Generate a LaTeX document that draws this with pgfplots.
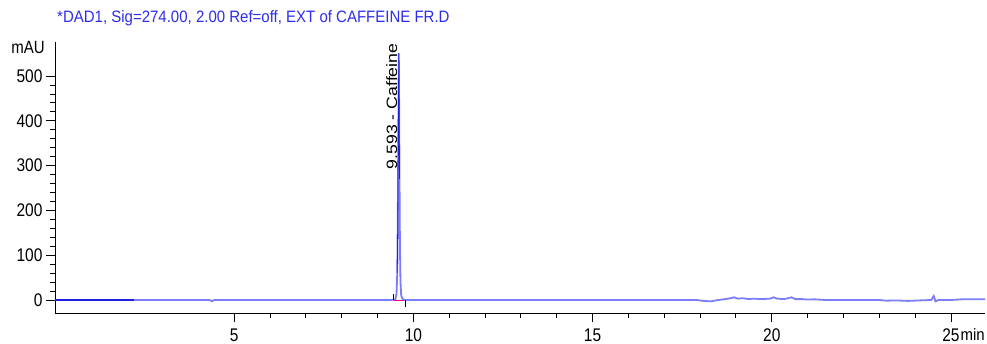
\documentclass[border=0pt]{standalone}
\usepackage{fontspec}
\setmainfont{Liberation Sans}
\usepackage{pgfplots}
\pgfplotsset{compat=1.18}
\definecolor{trace}{RGB}{125,125,250}
\definecolor{dark}{RGB}{30,30,225}
\definecolor{ttl}{RGB}{45,45,235}
\begin{document}
\begin{tikzpicture}
\begin{axis}[
  scale only axis, width=930pt, height=271pt,
  xmin=0, xmax=25.95, ymin=-29, ymax=576,
  axis x line*=bottom, axis y line*=left,
  axis line style={black, line width=0.9pt, -},
  xtick={5,10,15,20,25}, minor x tick num=4,
  ytick={0,100,200,300,400,500}, minor y tick num=4,
  tick align=outside,
  major tick length=9pt, minor tick length=5pt,
  tick style={black, line width=0.9pt},
  ticklabel style={font=\fontsize{15.5}{17}\selectfont, yscale=1.18},
  xticklabel style={yshift=-2pt},
  /pgf/number format/assume math mode=true,
  clip=false,
]
% trace (light blue)
\addplot[trace, line width=1.8pt] coordinates {
 (0,0) (2.2,0) (4.3,0) (4.38,-2.5) (4.45,0) (9.40,0) (9.45,0.5) (9.50,2) (9.53,15) (9.55,60)
 (9.565,180) (9.58,380) (9.593,551) (9.603,430) (9.613,270) (9.625,120) (9.64,40)
 (9.66,10) (9.70,2) (9.76,0) (12,0) (15,0) (17.9,0) (18.1,-2) (18.3,-3) (18.5,0)
 (18.7,2) (18.85,4) (18.95,6) (19.05,3) (19.2,4) (19.35,2) (19.5,3) (19.7,2)
 (19.95,3) (20.05,6) (20.15,3) (20.35,2) (20.55,6) (20.65,2) (20.85,2) (21.0,1)
 (21.2,1.5) (21.5,0) (23,0) (23.2,-1.5) (23.5,-1) (23.8,-2) (24.1,-1) (24.45,0)
 (24.52,9) (24.57,-3) (24.65,0) (25.0,0) (25.3,1.5) (25.95,1.5)
};
% dark overlay
\addplot[dark, line width=1.1pt] coordinates {(0,0) (2.2,0)};
\addplot[dark, line width=0.8pt] coordinates {(9.55,60) (9.565,180) (9.58,380) (9.593,551) (9.603,430) (9.613,270)};
% integration markers
\addplot[magenta, line width=1.2pt] coordinates {(9.46,-1) (9.74,-1)};
\addplot[black, line width=0.8pt] coordinates {(9.43,0) (9.43,14)};
\addplot[black, line width=0.8pt] coordinates {(9.77,0) (9.77,-15)};
% peak label
\node[rotate=90, xscale=1.18, anchor=east, font=\fontsize{15}{17}\selectfont, inner sep=0pt]
  at (axis cs:9.40,573) {9.593 - Caffeine};
% axis unit labels
\node[anchor=east, yscale=1.18, font=\fontsize{15}{17}\selectfont, inner sep=0pt]
  at (axis cs:0,563) [xshift=-10pt] {mAU};
\node[anchor=base east, yscale=1.1, font=\fontsize{15}{17}\selectfont, inner sep=0pt]
  at (rel axis cs:1,0) [yshift=-25pt, xshift=0pt] {min};
% title
\node[anchor=west, yscale=1.1, font=\fontsize{15}{17}\selectfont, text=ttl, inner sep=0pt]
  at (rel axis cs:0,1) [yshift=22pt, xshift=2pt] {*DAD1, Sig=274.00, 2.00 Ref=off, EXT of CAFFEINE FR.D};
\end{axis}
\pgfresetboundingbox
\path[use as bounding box] (-55pt,-31pt) rectangle (932pt,313pt);
\end{tikzpicture}
\end{document}
